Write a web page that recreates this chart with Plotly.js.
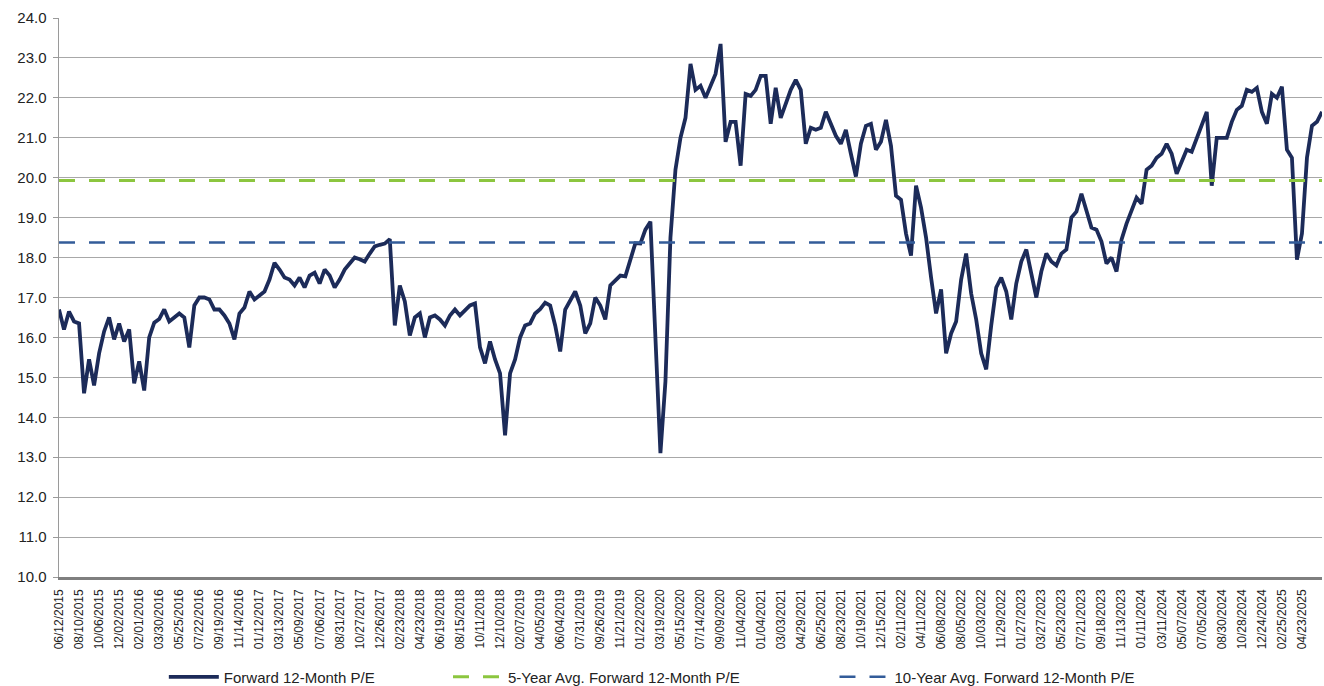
<!DOCTYPE html>
<html>
<head>
<meta charset="utf-8">
<script src="https://cdn.plot.ly/plotly-3.0.1.min.js"></script>
<style>
  html, body { margin: 0; padding: 0; background: #fff; }
  #grafico { width: 1324px; height: 686px; }
</style>
</head>
<body>
<div id="grafico"></div>
<script>
// tick labels, one every 40 trading sessions
const tickDates = [
  "06/12/2015", "08/10/2015", "10/06/2015", "12/02/2015", "02/01/2016", "03/30/2016",
  "05/25/2016", "07/22/2016", "09/19/2016", "11/14/2016", "01/12/2017", "03/13/2017",
  "05/09/2017", "07/06/2017", "08/31/2017", "10/27/2017", "12/26/2017", "02/23/2018",
  "04/23/2018", "06/19/2018", "08/15/2018", "10/11/2018", "12/10/2018", "02/07/2019",
  "04/05/2019", "06/04/2019", "07/31/2019", "09/26/2019", "11/21/2019", "01/22/2020",
  "03/19/2020", "05/15/2020", "07/14/2020", "09/09/2020", "11/04/2020", "01/04/2021",
  "03/03/2021", "04/29/2021", "06/25/2021", "08/23/2021", "10/19/2021", "12/15/2021",
  "02/11/2022", "04/11/2022", "06/08/2022", "08/05/2022", "10/03/2022", "11/29/2022",
  "01/27/2023", "03/27/2023", "05/23/2023", "07/21/2023", "09/18/2023", "11/13/2023",
  "01/11/2024", "03/11/2024", "05/07/2024", "07/05/2024", "08/30/2024", "10/28/2024",
  "12/24/2024", "02/25/2025", "04/23/2025"
];

// forward 12-month P/E, read every 10 trading sessions
const pe = [
  16.7, 16.2, 16.65, 16.4, 16.35, 14.6, 15.45, 14.8, 15.6, 16.15,
  16.5, 15.95, 16.35, 15.9, 16.2, 14.85, 15.4, 14.67, 16.0, 16.37,
  16.46, 16.7, 16.4, 16.5, 16.6, 16.5, 15.75, 16.8, 17.0, 17.0,
  16.95, 16.7, 16.7, 16.55, 16.35, 15.95, 16.6, 16.75, 17.15, 16.95,
  17.05, 17.15, 17.45, 17.87, 17.7, 17.5, 17.45, 17.3, 17.5, 17.25,
  17.55, 17.62, 17.35, 17.7, 17.55, 17.25, 17.45, 17.7, 17.85, 18.0,
  17.96, 17.9, 18.1, 18.28, 18.32, 18.35, 18.46, 16.3, 17.3, 16.9,
  16.05, 16.5, 16.6, 16.0, 16.5, 16.55, 16.45, 16.3, 16.55, 16.7,
  16.55, 16.67, 16.8, 16.85, 15.75, 15.35, 15.9, 15.45, 15.1, 13.55,
  15.1, 15.45, 16.0, 16.3, 16.35, 16.6, 16.71, 16.87, 16.8, 16.3,
  15.65, 16.7, 16.95, 17.15, 16.8, 16.1, 16.35, 17.0, 16.8, 16.45,
  17.3, 17.44, 17.55, 17.53, 17.95, 18.36, 18.35, 18.7, 18.9, 16.2,
  13.1, 14.9, 18.5, 20.2, 21.0, 21.5, 22.85, 22.2, 22.3, 22.0,
  22.3, 22.6, 23.35, 20.9, 21.4, 21.4, 20.3, 22.1, 22.05, 22.2,
  22.55, 22.55, 21.35, 22.25, 21.5, 21.85, 22.2, 22.45, 22.2, 20.85,
  21.25, 21.2, 21.25, 21.65, 21.35, 21.05, 20.85, 21.2, 20.6, 20.03,
  20.85, 21.3, 21.35, 20.7, 20.9, 21.45, 20.8, 19.55, 19.45, 18.6,
  18.05, 19.8, 19.25, 18.5, 17.5, 16.6, 17.2, 15.6, 16.1, 16.4,
  17.45, 18.1, 17.1, 16.45, 15.6, 15.2, 16.3, 17.25, 17.5, 17.15,
  16.45, 17.35, 17.9, 18.2, 17.6, 17.0, 17.65, 18.1, 17.9, 17.8,
  18.1, 18.2, 19.0, 19.15, 19.6, 19.2, 18.75, 18.7, 18.4, 17.85,
  18.0, 17.65, 18.45, 18.85, 19.2, 19.5, 19.35, 20.2, 20.3, 20.5,
  20.6, 20.85, 20.6, 20.1, 20.4, 20.7, 20.65, 21.0, 21.35, 21.65,
  19.8, 21.0, 21.0, 21.0, 21.4, 21.7, 21.8, 22.2, 22.15, 22.25,
  21.65, 21.35, 22.1, 22.0, 22.28, 20.7, 20.5, 17.95, 18.6, 20.5,
  21.3, 21.4, 21.65
];

const avg5yr = 19.93;
const avg10yr = 18.38;

// x = trading session number (category-style axis)
const session = pe.map((_, i) => i * 10);
const tickSessions = tickDates.map((_, k) => k * 40);

const font = "Liberation Sans, Arial, sans-serif";

const data = [
  {
    x: session, y: pe, mode: 'lines', type: 'scatter',
    name: 'Forward 12-Month P/E',
    line: { color: '#1c2b59', width: 3.8 },
    legend: 'legend'
  },
  {
    x: session, y: pe.map(() => avg5yr), mode: 'lines', type: 'scatter',
    name: '5-Year Avg. Forward 12-Month P/E',
    line: { color: '#8cc63f', width: 3, dash: '16px,14px' },
    legend: 'legend2'
  },
  {
    x: session, y: pe.map(() => avg10yr), mode: 'lines', type: 'scatter',
    name: '10-Year Avg. Forward 12-Month P/E',
    line: { color: '#335c99', width: 2.5, dash: '16px,14px' },
    legend: 'legend3'
  }
];

const legendBase = {
  orientation: 'h', yref: 'container', y: 0.013, yanchor: 'middle', xanchor: 'left',
  font: { family: font, size: 15, color: '#222' },
  itemwidth: 50,
  bgcolor: 'rgba(0,0,0,0)'
};

const layout = {
  width: 1324, height: 686,
  margin: { l: 59, r: 2, t: 18, b: 109 },
  paper_bgcolor: '#fff', plot_bgcolor: '#fff',
  font: { family: font, color: '#222' },
  showlegend: true,
  xaxis: {
    range: [0, session[session.length - 1]],
    tickvals: tickSessions, ticktext: tickDates,
    tickangle: -90,
    tickfont: { family: font, size: 12, color: '#222' },
    ticklabelstandoff: 5,
    automargin: false,
    showgrid: false, zeroline: false,
    showline: true, linecolor: '#7f7f7f', linewidth: 2.5,
    ticks: ''
  },
  yaxis: {
    range: [10, 24], dtick: 1, tick0: 10, tickformat: '.1f',
    tickfont: { family: font, size: 15, color: '#222' },
    ticklabelstandoff: 3,
    automargin: false,
    showgrid: true, gridcolor: '#a8a8a8', gridwidth: 1,
    zeroline: false,
    showline: true, linecolor: '#9a9a9a', linewidth: 1.5,
    ticks: 'outside', ticklen: 5, tickcolor: '#9a9a9a'
  },
  legend: Object.assign({}, legendBase, { x: 0.083 }),
  legend2: Object.assign({}, legendBase, { x: 0.308 }),
  legend3: Object.assign({}, legendBase, { x: 0.614 })
};

Plotly.newPlot('grafico', data, layout, { displayModeBar: false, staticPlot: true });
</script>
</body>
</html>
